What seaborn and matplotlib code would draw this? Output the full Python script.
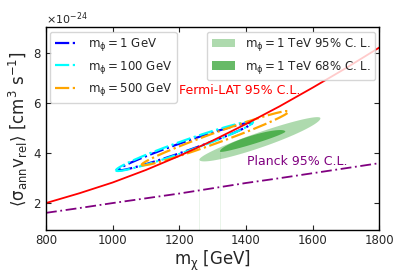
import numpy as np
import matplotlib
matplotlib.use("Agg")
import matplotlib.pyplot as plt
import seaborn as sns
from matplotlib.patches import Patch
from matplotlib.lines import Line2D

# ---- data (cross sections in units of cm^3 s^-1) ----
mass = [800, 900, 1000, 1100, 1200, 1300, 1400, 1500, 1600, 1700, 1800]
fermi = [2.0, 2.39, 2.82, 3.32, 3.88, 4.49, 5.15, 5.85, 6.6, 7.38, 8.2]
planck = [1.61, 1.80, 2.0, 2.19, 2.38, 2.59, 2.8, 2.99, 3.19, 3.39, 3.59]
scale = 1e-24

# ellipse contours: (left tip, right tip, half-width above, half-width below [px])
ell_labels = ["$m_\\phi = 1$ GeV", "$m_\\phi = 100$ GeV", "$m_\\phi = 500$ GeV"]
ell_colors = ["blue", "cyan", "orange"]
ell_left_x = [1017, 1010, 1087]
ell_left_y = [3.32, 3.30, 3.52]
ell_right_x = [1418, 1421, 1528]
ell_right_y = [5.19, 5.23, 5.65]
ell_wu = [4.6, 5.6, 5.2]
ell_wd = [4.6, 5.6, 5.2]

fill_labels = ["$m_\\phi = 1$ TeV 95% C. L.", "$m_\\phi = 1$ TeV 68% C. L."]
fill_alpha = [0.38, 0.72]
fill_left_x = [1260, 1322]
fill_left_y = [3.72, 4.05]
fill_right_x = [1623, 1518]
fill_right_y = [5.39, 4.85]
fill_wu = [6.5, 6.0]
fill_wd = [8.5, 2.5]

xlim = (800, 1800)
ylim = (0.92, 9.0)

sns.set_theme(style="ticks")
plt.rcParams['font.family'] = ['DejaVu Sans']
plt.rcParams['mathtext.default'] = 'regular'

fig = plt.figure(figsize=(4.07, 2.80), dpi=100)
ax = fig.add_axes([0.113, 0.178, 0.819, 0.724])
ax.set_xlim(*xlim)
ax.set_ylim(ylim[0] * scale, ylim[1] * scale)

# pixel-per-unit factors (for drawing ellipses in screen-like space)
W = 0.819 * 407
H = 0.724 * 280
sx = W / (xlim[1] - xlim[0])
sy = H / ((ylim[1] - ylim[0]))


def ellipse(x1, y1, x2, y2, wu, wd, n=200):
    X1, Y1, X2, Y2 = x1 * sx, y1 * sy, x2 * sx, y2 * sy
    cx, cy = (X1 + X2) / 2, (Y1 + Y2) / 2
    a = np.hypot(X2 - X1, Y2 - Y1) / 2
    th = np.arctan2(Y2 - Y1, X2 - X1)
    t = np.linspace(np.pi, 3 * np.pi, n)
    u = a * np.cos(t)
    s = np.sin(t)
    v = np.where(s > 0, wu, wd) * s
    X = cx + u * np.cos(th) - v * np.sin(th)
    Y = cy + u * np.sin(th) + v * np.cos(th)
    return X / sx, Y / sy * scale


# green filled regions
for i in range(2):
    ex, ey = ellipse(fill_left_x[i], fill_left_y[i], fill_right_x[i], fill_right_y[i],
                     fill_wu[i], fill_wd[i])
    ax.fill(ex, ey, color='#2ca02c', alpha=fill_alpha[i], lw=0)
    ax.vlines(fill_left_x[i], ylim[0] * scale, fill_left_y[i] * scale,
              color='#2ca02c', alpha=0.1, lw=0.7)

# ellipse outlines
for i in range(3):
    ex, ey = ellipse(ell_left_x[i], ell_left_y[i], ell_right_x[i], ell_right_y[i],
                     ell_wu[i], ell_wd[i])
    ax.plot(ex, ey, color=ell_colors[i], lw=1.6, ls='-.')

sns.lineplot(x=mass, y=np.array(fermi) * scale, color='red', lw=1.3, ax=ax)
sns.lineplot(x=mass, y=np.array(planck) * scale, color='purple', lw=1.3,
             ls=(0, (6, 2, 1, 2)), ax=ax)

ax.text(1200, 6.5 * scale, "Fermi-LAT 95% C.L.", color='red', fontsize=9, va='center')
ax.text(1402, 3.64 * scale, "Planck 95% C.L.", color='purple', fontsize=9, va='center')

ax.set_xticks([800, 1000, 1200, 1400, 1600, 1800])
ax.set_yticks(np.array([2, 4, 6, 8]) * scale)
ax.ticklabel_format(axis='y', style='sci', scilimits=(0, 0), useMathText=True)
ax.tick_params(direction='in', top=True, right=True, labelsize=8.5, length=3.5, width=0.8, pad=3)
ax.yaxis.get_offset_text().set_fontsize(8)
for sp in ax.spines.values():
    sp.set_linewidth(1.0)
    sp.set_color('black')

ax.set_xlabel("$m_\\chi$ [GeV]", fontsize=12, labelpad=1)
ax.set_ylabel("$\\langle\\sigma_{ann}v_{rel}\\rangle$ [cm$^3$ s$^{-1}$]", fontsize=12, labelpad=2)

h1 = [Line2D([], [], color=c, lw=1.6, ls='-.') for c in ell_colors]
leg1 = ax.legend(h1, ell_labels, loc='upper left', fontsize=8.5, handlelength=2.0,
                 borderaxespad=0.35, labelspacing=0.45)
ax.add_artist(leg1)
h2 = [Patch(color='#2ca02c', alpha=a, lw=0) for a in fill_alpha]
ax.legend(h2, fill_labels, loc='upper right', fontsize=8.5, handlelength=2.0,
          borderaxespad=0.35, labelspacing=0.45)

fig.savefig("out.png", dpi=100)
